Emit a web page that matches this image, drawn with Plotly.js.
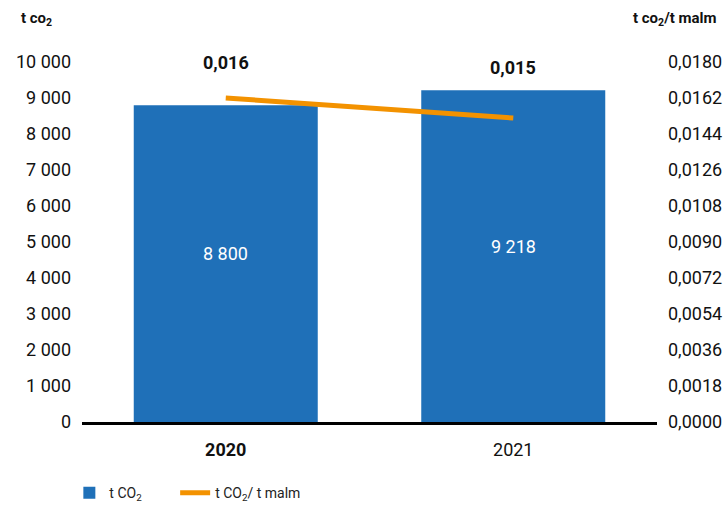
<!DOCTYPE html>
<html>
<head>
<meta charset="utf-8">
<script src="https://cdn.plot.ly/plotly-3.0.1.min.js"></script>
<style>html,body{margin:0;padding:0;background:#fff;}#chart{width:728px;height:506px;}</style>
</head>
<body>
<div id="chart"></div>
<script>
const years = ['2020', '2021'];
const yearLabels = ['<b>2020</b>', '2021'];
const emissions = [8800, 9218];
const emissionLabels = ['8 800', '9 218'];
const intensity = [0.0162, 0.0152];
const intensityLabels = ['0,016', '0,015'];
const leftTickVals = [0, 1000, 2000, 3000, 4000, 5000, 6000, 7000, 8000, 9000, 10000];
const leftTickText = ['0', '1 000', '2 000', '3 000', '4 000', '5 000', '6 000', '7 000', '8 000', '9 000', '10 000'];
const rightTickVals = [0, 0.0018, 0.0036, 0.0054, 0.0072, 0.009, 0.0108, 0.0126, 0.0144, 0.0162, 0.018];
const rightTickText = ['0,0000', '0,0018', '0,0036', '0,0054', '0,0072', '0,0090', '0,0108', '0,0126', '0,0144', '0,0162', '0,0180'];

const FONT = 'Roboto, "Noto Sans", sans-serif';
const BLUE = '#1f70b8';
const ORANGE = '#f39200';

const traces = [
  {
    type: 'bar', x: years, y: emissions, name: 't CO<sub>2</sub>',
    marker: {color: BLUE}, hoverinfo: 'skip', legend: 'legend'
  },
  {
    type: 'scatter', mode: 'lines', x: years, y: intensity, yaxis: 'y2',
    name: 't CO<sub>2</sub>/ t malm', line: {color: ORANGE, width: 5},
    hoverinfo: 'skip', legend: 'legend2'
  }
];

const labelShift = [36, 51];
const annotations = intensity.map((v, i) => ({
  xref: 'x', yref: 'y2', x: i, y: v, text: '<b>' + intensityLabels[i] + '</b>',
  showarrow: false, yshift: labelShift[i], font: {size: 18, family: FONT, color: '#111'}
}));
emissions.forEach((v, i) => annotations.push({
  xref: 'x', yref: 'y', x: i, y: v / 2, yshift: 10, text: emissionLabels[i],
  showarrow: false, font: {size: 18, family: FONT, color: '#fff'}
}));
annotations.push(
  {xref: 'paper', yref: 'paper', x: -0.11, y: 1.0, yshift: 43, xanchor: 'left', yanchor: 'middle',
   text: '<b>t co<sub>2</sub></b>', showarrow: false, font: {size: 15, family: FONT, color: '#111'}},
  {xref: 'paper', yref: 'paper', x: 1.0, xshift: 61, y: 1.0, yshift: 43, xanchor: 'right', yanchor: 'middle',
   text: '<b>t co<sub>2</sub>/t malm</b>', showarrow: false, font: {size: 15, family: FONT, color: '#111'}}
);

const legendFont = {size: 14, family: FONT, color: '#222'};
const layout = {
  width: 728, height: 506,
  margin: {l: 82, r: 71, t: 62, b: 84, autoexpand: false},
  paper_bgcolor: '#fff', plot_bgcolor: '#fff',
  font: {family: FONT, color: '#111', size: 18},
  bargap: 0.36,
  showlegend: true,
  legend: {orientation: 'h', x: -0.022, xanchor: 'left', y: -0.153, yanchor: 'top', font: legendFont},
  legend2: {orientation: 'h', x: 0.162, xanchor: 'left', y: -0.153, yanchor: 'top', font: legendFont},
  xaxis: {
    type: 'category', range: [-0.5, 1.5], tickvals: years, ticktext: yearLabels,
    showline: true, linecolor: '#000', linewidth: 3, ticks: '', showgrid: false,
    tickfont: {size: 18, family: FONT, color: '#111'}, zeroline: false, ticklabelstandoff: 9
  },
  yaxis: {
    range: [0, 10000], tickvals: leftTickVals, ticktext: leftTickText,
    showgrid: false, zeroline: false, showline: false, ticks: '',
    tickfont: {size: 18, family: FONT, color: '#111'}, ticklabelstandoff: 10
  },
  yaxis2: {
    overlaying: 'y', side: 'right', range: [0, 0.018],
    tickvals: rightTickVals, ticktext: rightTickText,
    showgrid: false, zeroline: false, showline: false, ticks: '',
    tickfont: {size: 18, family: FONT, color: '#111'}, ticklabelstandoff: 10
  },
  annotations: annotations
};

Plotly.newPlot('chart', traces, layout, {displayModeBar: false, staticPlot: true});
</script>
</body>
</html>
